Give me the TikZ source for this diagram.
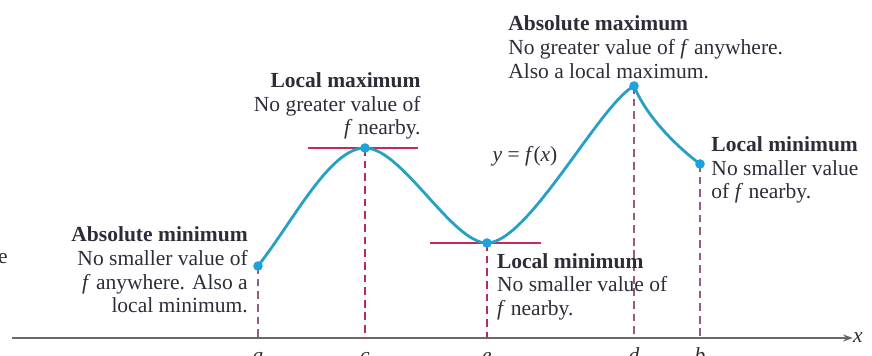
\documentclass[tikz,border=0pt]{standalone}
\usepackage{fontspec}
\setmainfont{Liberation Serif}
\usetikzlibrary{arrows.meta}
\definecolor{curveblue}{RGB}{38,160,196}
\definecolor{dotblue}{RGB}{30,162,222}
\definecolor{tanred}{RGB}{200,40,90}
\definecolor{dropred}{RGB}{182,42,92}
\definecolor{dropmauve}{RGB}{150,92,132}
\definecolor{axisgray}{RGB}{105,105,105}
\definecolor{inkgray}{RGB}{45,45,58}

\begin{document}
\begin{tikzpicture}[
    >={Stealth[length=7pt, width=5pt]},
    every node/.style={text=inkgray, font=\fontsize{15.3}{17}\selectfont, inner sep=0pt}
]

\useasboundingbox (0,0) rectangle (21.8,8.9);

% x positions of a, c, e, d, b
\def\xa{6.45}
\def\xc{9.125}
\def\xe{12.175}
\def\xd{15.85}
\def\xb{17.5}
\def\ax{0.45}

% Points on the curve
\coordinate (a) at (\xa, 2.25);
\coordinate (c) at (\xc, 5.2);
\coordinate (e) at (\xe, 2.825);
\coordinate (d) at (\xd, 6.75);
\coordinate (b) at (\xb, 4.8);

% x axis
\coordinate (xstart) at (0.3, \ax);
\node[font=\fontsize{15.3}{17}\itshape] (xlab) at (21.45, \ax) {x};
\draw[axisgray, line width=1.3pt, ->] (xstart) -- (xlab.west);

% Tick labels (cut by the page edge)
\node[anchor=base] (ta) at (\xa, -0.17) {\textit{a}};
\node[anchor=base] (tc) at (\xc, -0.17) {\textit{c}};
\node[anchor=base] (te) at (\xe, -0.17) {\textit{e}};
\node[anchor=base] (td) at (\xd, -0.17) {\textit{d}};
\node[anchor=base] (tb) at (\xb, -0.17) {\textit{b}};

% Drop lines
\draw[dropmauve, dashed, dash pattern=on 5.5pt off 3.5pt, line width=1pt] (a) -- (a |- xstart);
\draw[dropred, dashed, dash pattern=on 5.5pt off 3.5pt, line width=1.6pt] (c) -- (c |- xstart);
\draw[dropred, dashed, dash pattern=on 5.5pt off 3.5pt, line width=1.6pt] (e) -- (e |- xstart);
\draw[dropmauve, dashed, dash pattern=on 5.5pt off 3.5pt, line width=1pt] (d) -- (d |- xstart);
\draw[dropmauve, dashed, dash pattern=on 5.5pt off 3.5pt, line width=1pt] (b) -- (b |- xstart);

% Horizontal tangents
\draw[tanred, line width=1.3pt] ([xshift=-1.425cm]c) -- ([xshift=1.325cm]c);
\draw[tanred, line width=1.3pt] ([xshift=-1.425cm]e) -- ([xshift=1.35cm]e);

% The curve y = f(x)
\draw[curveblue, line width=2pt]
    (a) .. controls (7.35,3.4) and (8.25,5.2) .. (c)
        .. controls (10.05,5.2) and (11.3,2.825) .. (e)
        .. controls (13.2,2.825) and (15.0,6.3) .. (d)
        .. controls (16.15,6.0) and (16.9,5.25) .. (b);

% Dots
\foreach \p in {a,c,e,d,b}
    \fill[dotblue] (\p) circle (0.12);

% Labels
\node[anchor=north east, align=right] (absmin) at (6.2, 3.25) {
    \textbf{Absolute minimum}\\
    No smaller value of\\
    \textit{f} anywhere. Also a\\
    local minimum.
};

\node[anchor=north east, align=right] (locmax) at (10.52, 7.1) {
    \textbf{Local maximum}\\
    No greater value of\\
    \textit{f} nearby.
};

\node[anchor=north west, align=left] (absmax) at (12.7, 8.52) {
    \textbf{Absolute maximum}\\
    No greater value of \textit{f} anywhere.\\
    Also a local maximum.
};

\node (curvelab) at (13.125, 5.0) {\textit{y} = \textit{f}(\textit{x})};

\node[anchor=north west, align=left] (locminb) at (17.78, 5.5) {
    \textbf{Local minimum}\\
    No smaller value\\
    of \textit{f} nearby.
};

\node[anchor=north west, align=left] (locmine) at (12.42, 2.58) {
    \textbf{Local minimum}\\
    No smaller value of\\
    \textit{f} nearby.
};

% Cut-off letter at the left edge
\node[anchor=base east] (stray) at (0.2, 2.3) {e};

\end{tikzpicture}
\end{document}
